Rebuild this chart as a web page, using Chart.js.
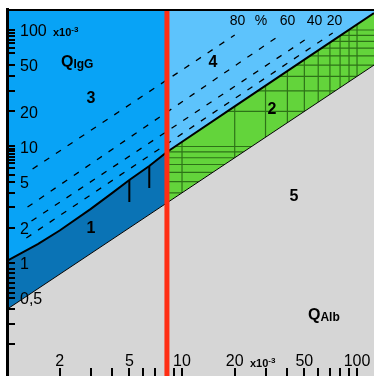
<!DOCTYPE html>
<html lang="de">
<head>
<meta charset="utf-8">
<title>Reiber-Diagramm IgG</title>
<script src="https://cdn.jsdelivr.net/npm/chart.js@4.4.1/dist/chart.umd.min.js"></script>
<style>
  html, body { margin: 0; padding: 0; background: #ffffff; }
  canvas { display: block; }
</style>
</head>
<body>
<canvas id="reiberChart" width="374" height="376"></canvas>
<script>
// --- data: QAlb (x) and QIgG (y), both in units of 10^-3 ---
const upperLeftQAlb = [1, 1.5, 2, 3, 4, 5, 6.5, 8.2];
const upperLeftQIgG = [1.04, 1.45, 1.9, 2.9, 4.0, 5.15, 6.8, 8.97];
const upperRightQAlb = [8.2, 20, 50, 125];
const upperRightQIgG = [8.97, 22.1, 55.7, 139.6];
const lowerLeftQAlb = [1, 8.2];
const lowerLeftQIgG = [0.4, 3.28];
const lowerRightQAlb = [8.2, 125];
const lowerRightQIgG = [3.28, 50];

// intrathecal fraction lines (20 / 40 / 60 / 80 %)
const dashLabels = ['20', '40', '60', '80'];
const dashStartQAlb = [1.29, 1.38, 1.31, 1.40];
const dashStartQIgG = [1.64, 2.29, 3.02, 6.41];
const dashEndQAlb = [72.6, 50.2, 35.7, 20];
const dashEndQIgG = [94.3, 82.0, 88.9, 90.6];

// age marks inside region 1
const ageQAlb = [5, 6.5];
const ageTopQIgG = [5.15, 6.8];
const ageBottomQIgG = [3.34, 4.4];

const redLineQAlb = 8.2;

// axes
const xMin = 1, xMax = 125;
const yMin = 0.107, yMax = 150;
const xTickValues = [2, 3, 4, 5, 6, 7, 9, 10, 20, 30, 40, 50, 60, 70, 80, 90, 100];
const xTickLabels = ['2', '', '', '5', '', '', '', '10', '20', '', '', '50', '', '', '', '', '100'];
const yTickValues = [100, 94, 88, 82, 77, 70, 63, 50, 40, 30, 20,
  10, 9.6, 9.1, 8.6, 8.1, 7.6, 7.2, 6.5, 5.7, 5, 4, 3, 2,
  1, 0.89, 0.82, 0.74, 0.67, 0.61, 0.55, 0.5, 0.4, 0.3, 0.2];
const yTickNames = { 100: '100', 50: '50', 20: '20', 10: '10', 5: '5', 2: '2', 1: '1', 0.5: '0,5' };

// grid drawn inside region 2
const hatchQAlb = [10, 20, 30, 40, 50, 60, 70, 80, 90, 100];
const hatchQIgG = [3, 4, 5, 6, 7, 8, 9, 10, 20, 30, 40, 50, 60, 70, 80, 90, 100];

// --- colours ---
const RED = '#ff2e14';
const BLUE_3 = '#08a3f6';
const BLUE_4 = '#5dc3fc';
const BLUE_1 = '#0a73b5';
const GREEN_2 = '#63d43b';
const GREY_5 = '#d6d6d6';
const FONT = '"Liberation Sans", Arial, Helvetica, sans-serif';

const pts = (xs, ys) => xs.map((x, i) => ({ x: x, y: ys[i] }));

const UPPER_LEFT = 7, UPPER_RIGHT = 8, LOWER_RIGHT = 10;

const datasets = [
    // 0: red reference line
    { data: [{ x: redLineQAlb, y: yMin }, { x: redLineQAlb, y: yMax }], borderColor: RED, borderWidth: 5, fill: false },
    // 1-2: age marks
    ...ageQAlb.map((q, i) => ({
        data: [{ x: q, y: ageTopQIgG[i] }, { x: q, y: ageBottomQIgG[i] }],
        borderColor: '#000', borderWidth: 2, fill: false
    })),
    // 3-6: dashed fraction lines
    ...dashLabels.map((lbl, i) => ({
        label: lbl + ' %',
        data: [{ x: dashStartQAlb[i], y: dashStartQIgG[i] }, { x: dashEndQAlb[i], y: dashEndQIgG[i] }],
        borderColor: '#000', borderWidth: 1.3, borderDash: [6, 8], fill: false
    })),
    // 7: upper limit, left of red line (area 3)
    { data: pts(upperLeftQAlb, upperLeftQIgG), borderColor: '#000', borderWidth: 2, fill: 'end', backgroundColor: BLUE_3 },
    // 8: upper limit, right of red line (area 4)
    { data: pts(upperRightQAlb, upperRightQIgG), borderColor: '#000', borderWidth: 2, fill: 'end', backgroundColor: BLUE_4 },
    // 9: lower limit left (area 1)
    { data: pts(lowerLeftQAlb, lowerLeftQIgG), borderColor: '#000', borderWidth: 1, fill: UPPER_LEFT, backgroundColor: BLUE_1 },
    // 10: lower limit right (area 2)
    { data: pts(lowerRightQAlb, lowerRightQIgG), borderColor: '#000', borderWidth: 1, fill: UPPER_RIGHT, backgroundColor: GREEN_2 },
    // 11: below lower limit (area 5)
    { data: pts(lowerLeftQAlb.concat(lowerRightQAlb), lowerLeftQIgG.concat(lowerRightQIgG)), borderColor: 'rgba(0,0,0,0)', borderWidth: 1, fill: 'start', backgroundColor: GREY_5 }
];

// --- hatch of area 2, clipped to the area between the two limit lines ---
const hatchPlugin = {
    id: 'hatchArea2',
    beforeDatasetsDraw(chart) {
        const { ctx, chartArea, scales } = chart;
        const top = chart.getDatasetMeta(UPPER_RIGHT).data;
        const bottom = chart.getDatasetMeta(LOWER_RIGHT).data;
        if (!top.length || !bottom.length) return;
        ctx.save();
        ctx.beginPath();
        top.forEach((p, i) => i ? ctx.lineTo(p.x, p.y) : ctx.moveTo(p.x, p.y));
        bottom.slice().reverse().forEach(p => ctx.lineTo(p.x, p.y));
        ctx.closePath();
        ctx.clip();
        ctx.strokeStyle = 'rgba(10, 50, 0, 0.6)';
        ctx.lineWidth = 1.2;
        ctx.beginPath();
        hatchQAlb.forEach(q => {
            const px = scales.x.getPixelForValue(q);
            ctx.moveTo(px, chartArea.top);
            ctx.lineTo(px, chartArea.bottom);
        });
        hatchQIgG.forEach(v => {
            const py = scales.y.getPixelForValue(v);
            ctx.moveTo(chartArea.left, py);
            ctx.lineTo(chartArea.right, py);
        });
        ctx.stroke();
        ctx.restore();
    }
};

// --- texts in the diagram (pixel positions) ---
const areaNames = ['1', '2', '3', '4', '5'];
const areaPos = [[91, 229], [272, 110], [91, 99], [213, 63], [294, 197]];
const percentNames = ['80', '%', '60', '40', '20'];
const percentPosX = [237.5, 261, 287.5, 314.5, 334.5];

function subText(ctx, main, sub, x, y, mainFont, subFont, dy) {
    ctx.font = mainFont;
    ctx.fillText(main, x, y);
    const w = ctx.measureText(main).width;
    ctx.font = subFont;
    ctx.fillText(sub, x + w, y + dy);
}

const textPlugin = {
    id: 'diagramTexts',
    afterDraw(chart) {
        const ctx = chart.ctx;
        ctx.save();
        ctx.fillStyle = '#000';
        ctx.textAlign = 'center';
        ctx.textBaseline = 'middle';
        ctx.font = 'bold 16px ' + FONT;
        areaNames.forEach((t, i) => ctx.fillText(t, areaPos[i][0], areaPos[i][1]));
        ctx.font = '14px ' + FONT;
        percentNames.forEach((t, i) => ctx.fillText(t, percentPosX[i], 21.5));

        ctx.textAlign = 'left';
        ctx.textBaseline = 'alphabetic';
        subText(ctx, 'Q', 'IgG', 61, 67, 'bold 16px ' + FONT, 'bold 12px ' + FONT, 1);
        subText(ctx, 'Q', 'Alb', 308, 320, 'bold 16px ' + FONT, 'bold 12px ' + FONT, 1);
        // x10^-3 next to the axis labels
        subText(ctx, 'x10', '-3', 53, 36, 'bold 11px ' + FONT, 'bold 8px ' + FONT, -4);
        subText(ctx, 'x10', '-3', 250, 367, 'bold 11px ' + FONT, 'bold 8px ' + FONT, -4);
        ctx.restore();
    }
};

const chart = new Chart(document.getElementById('reiberChart'), {
    type: 'line',
    data: { datasets: datasets },
    options: {
        responsive: false,
        animation: false,
        events: [],
        layout: { padding: { left: 7, top: 9.5, right: 0, bottom: 0 } },
        elements: { point: { radius: 0 }, line: { tension: 0, borderCapStyle: 'butt' } },
        plugins: {
            legend: { display: false },
            tooltip: { enabled: false },
            filler: { drawTime: 'beforeDatasetsDraw' }
        },
        scales: {
            x: {
                type: 'logarithmic',
                position: 'bottom',
                min: xMin,
                max: xMax,
                bounds: 'data',
                afterBuildTicks: s => { s.ticks = xTickValues.map(v => ({ value: v })); },
                afterFit: s => { s.height = 0; s.paddingLeft = 0; s.paddingRight = 0; },
                grid: { drawOnChartArea: false, tickLength: -8, color: '#000', lineWidth: 2, z: 1 },
                border: { display: false },
                ticks: {
                    autoSkip: false, minRotation: 0, maxRotation: 0, mirror: true, padding: 5, z: 1,
                    color: '#000', font: { family: FONT, size: 16 },
                    callback: (v, i) => xTickLabels[i]
                }
            },
            y: {
                type: 'logarithmic',
                position: 'left',
                min: yMin,
                max: yMax,
                bounds: 'data',
                afterBuildTicks: s => { s.ticks = yTickValues.map(v => ({ value: v })); },
                afterFit: s => { s.width = 0; s.paddingTop = 0; s.paddingBottom = 0; },
                grid: { drawOnChartArea: false, tickLength: -8, color: '#000', lineWidth: 2, z: 1 },
                border: { display: true, color: '#000', width: 3, z: 1 },
                ticks: {
                    autoSkip: false, mirror: true, padding: 13, labelOffset: 2, z: 1,
                    color: '#000', font: { family: FONT, size: 16 },
                    callback: (v, i) => yTickNames[yTickValues[i]] || ''
                }
            },
            top: {
                type: 'linear',
                position: 'top',
                grid: { display: false },
                ticks: { display: false },
                border: { display: true, color: '#000', width: 2, z: 1 },
                afterFit: s => { s.height = 0; }
            }
        }
    },
    plugins: [hatchPlugin, textPlugin]
});
</script>
</body>
</html>
